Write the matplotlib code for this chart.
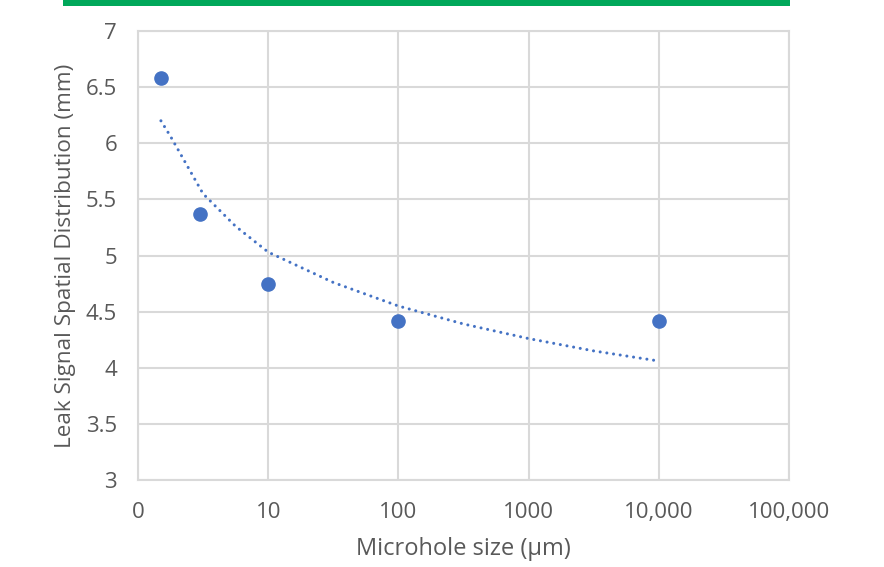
import numpy as np
import matplotlib.pyplot as plt
from matplotlib.patches import Rectangle

# measured points
hole_size = [1.5, 3, 10, 100, 10000]
spread_mm = [6.58, 5.37, 4.75, 4.42, 4.42]

# trendline
trend_x = [1.5, 1.78, 3.16, 5.62, 10, 31.6, 100, 316, 1000, 3162, 10000]
trend_y = [6.20, 6.06, 5.55, 5.26, 5.03, 4.76, 4.55, 4.39, 4.26, 4.15, 4.06]

x_ticks = [1, 10, 100, 1000, 10000, 100000]
x_labels = ['0', '10', '100', '1000', '10,000', '100,000']
y_ticks = [3, 3.5, 4, 4.5, 5, 5.5, 6, 6.5, 7]
y_labels = ['3', '3.5', '4', '4.5', '5', '5.5', '6', '6.5', '7']

blue = '#4472C4'
grey_txt = '#595959'
grid_c = '#D9D9D9'

plt.rcParams['font.family'] = ['Open Sans', 'DejaVu Sans']

fig = plt.figure(figsize=(8.84, 5.67), dpi=100)
ax = fig.add_axes([138/884, 1-480/567, (789-138)/884, (480-31)/567])

ax.plot(trend_x, trend_y, color=blue, lw=2.2, linestyle=(0, (0.01, 2.2)),
        dash_capstyle='round', zorder=3)
ax.plot(hole_size, spread_mm, 'o', color=blue, ms=9.5, zorder=4)

ax.set_xscale('log')
ax.set_xlim(1, 100000)
ax.set_ylim(3, 7)
ax.set_xticks(x_ticks)
ax.set_xticklabels(x_labels)
ax.minorticks_off()
ax.set_yticks(y_ticks)
ax.set_yticklabels(y_labels)

ax.grid(True, color=grid_c, lw=1.5)
ax.set_axisbelow(True)
for s in ax.spines.values():
    s.set_color(grid_c)
    s.set_linewidth(1.5)
ax.tick_params(length=0, labelsize=16, labelcolor=grey_txt)
ax.tick_params(axis='y', pad=15)
ax.tick_params(axis='x', pad=16)

ax.set_xlabel('Microhole size (µm)', fontsize=17, color=grey_txt, labelpad=10)
ax.set_ylabel('Leak Signal Spatial Distribution (mm)', fontsize=16.2, color=grey_txt, labelpad=7)

# green bar at the top
fig.add_artist(Rectangle((63/884, 1-6/567), (790-63)/884, 6/567,
                         transform=fig.transFigure, color='#00A85A', lw=0))

fig.savefig('out.png', dpi=100)
